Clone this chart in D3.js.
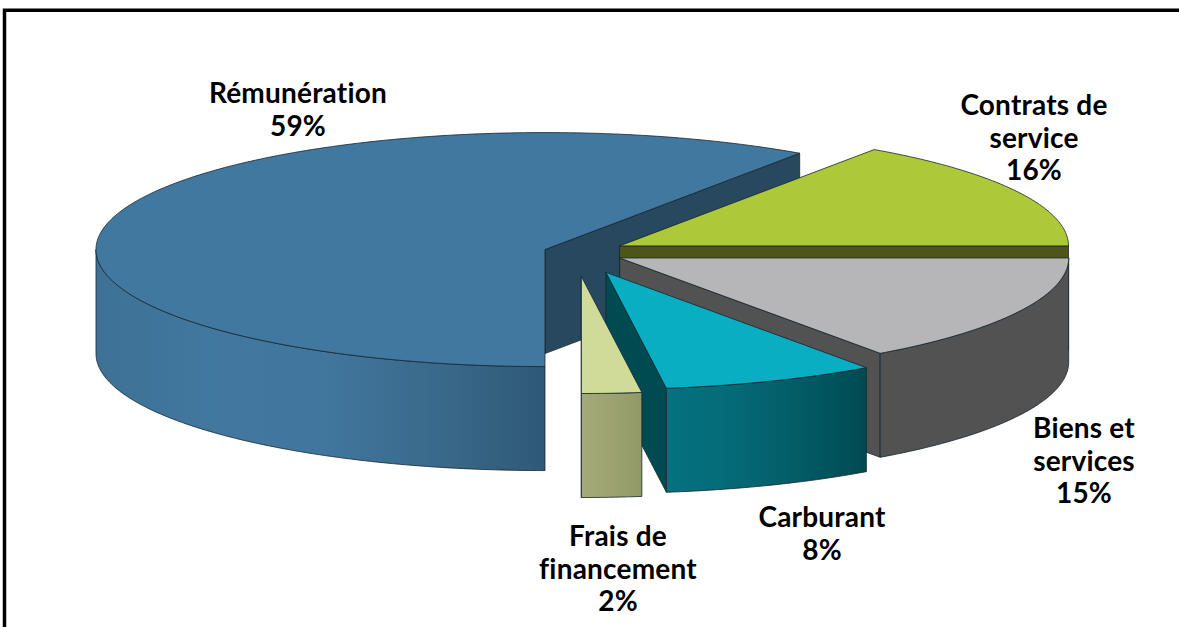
<!DOCTYPE html>
<html>
<head>
<meta charset="utf-8">
<script src="https://cdn.jsdelivr.net/npm/d3@7"></script>
<style>
  html, body { margin: 0; padding: 0; background: #fff; overflow: hidden; }
  text { font-family: Lato, "Open Sans", sans-serif; font-weight: 700; font-size: 28px; letter-spacing: 0.2px; font-variant-ligatures: none; fill: #000; text-anchor: middle; }
</style>
</head>
<body>
<script>
'use strict';
(function() {
  // Data
  var categories = ['Rémunération', 'Contrats de service', 'Biens et services', 'Carburant', 'Frais de financement'];
  var shares = [59.6, 15.4, 15.15, 7.7, 2.15];   // slice sweep
  var percentLabels = ['59%', '16%', '15%', '8%', '2%'];
  var labelLines = [['Rémunération'], ['Contrats de', 'service'], ['Biens et', 'services'], ['Carburant'], ['Frais de', 'financement']];

  // Colors
  var TOP_COLORS = ['#41789f', '#aec937', '#b6b6b8', '#09aec3', '#d0db98'];
  var CUT_COLORS = ['#27485f', '#4e5518', '#525252', '#004b52', '#919966'];
  var WALL_STOPS = [
    ['#3e7195', '#41789f', '#41779e', '#3a6a8b', '#2f5976'],
    ['#4e5518', '#4e5518', '#4e5518', '#4e5518', '#4e5518'],
    ['#525252', '#525252', '#525252', '#525252', '#525252'],
    ['#05717f', '#056c79', '#04636f', '#025761', '#004a52'],
    ['#a3aa78', '#a0a775', '#9ca370', '#969e6c', '#919966']
  ];
  var EDGE = '#16262e';

  // Layout
  var w = 1179;
  var h = 627;
  var cx = 575;
  var cy = 252;
  var rx = 449;
  var ry = 117;
  var depth = 104;
  var explode = [0.07, 0.112, 0.112, 0.187, 0.21];
  var labelX = [298, 1034, 1084, 822, 618];
  var labelY = [103, 115, 438, 527, 546];
  var lineH = 32.6;

  var svg = d3.select('body').append('svg')
    .attr('width', w)
    .attr('height', h)
    .style('display', 'block');

  // Frame: only the top and left rules are in the picture
  svg.append('path')
    .attr('d', 'M4.5,' + 627 + 'V10.25H' + w)
    .attr('fill', 'none')
    .attr('stroke', '#000')
    .attr('stroke-width', 3.5);

  var defs = svg.append('defs');
  WALL_STOPS.forEach(function(stops, i) {
    var grad = defs.append('linearGradient').attr('id', 'wall' + i);
    stops.forEach(function(c, j) {
      grad.append('stop').attr('offset', j / (stops.length - 1)).attr('stop-color', c);
    });
  });

  var pie = d3.pie().sort(null).startAngle(Math.PI).endAngle(3 * Math.PI);
  var slices = pie(shares);

  var line = d3.line();

  // Point on the squashed rim of a slice, lowered by dz
  var rimPoint = function(c, a, dz) {
    return [c.x + rx * Math.sin(a), c.y - ry * Math.cos(a) + dz];
  };

  var rimPoints = function(c, a0, a1, dz) {
    var n = Math.max(2, Math.ceil(Math.abs(a1 - a0) * 60));
    return d3.range(n + 1).map(function(k) {
      return rimPoint(c, a0 + (a1 - a0) * k / n, dz);
    });
  };

  // Only the front half of the rim has a visible wall
  var frontRange = function(a0, a1) {
    var ranges = [[Math.PI / 2, 1.5 * Math.PI], [2.5 * Math.PI, 3.5 * Math.PI]];
    for (var i = 0; i < ranges.length; i++) {
      var from = Math.max(a0, ranges[i][0]);
      var to = Math.min(a1, ranges[i][1]);
      if (to > from) return [from, to];
    }
    return null;
  };

  slices.forEach(function(d, i) {
    var mid = (d.startAngle + d.endAngle) / 2;
    var c = {
      x: cx + explode[i] * rx * Math.sin(mid),
      y: cy - explode[i] * ry * Math.cos(mid)
    };
    var g = svg.append('g').attr('class', 'slice').attr('data-name', categories[i]);

    // Cut side
    var rimEnd = rimPoint(c, d.endAngle, 0);
    g.append('path')
      .attr('d', line([[c.x, c.y], rimEnd, [rimEnd[0], rimEnd[1] + depth], [c.x, c.y + depth]]) + 'Z')
      .attr('fill', CUT_COLORS[i])
      .attr('stroke', EDGE)
      .attr('stroke-width', 0.8)
      .attr('stroke-linejoin', 'round');

    // Outer wall
    var front = frontRange(d.startAngle, d.endAngle);
    if (front) {
      var wall = rimPoints(c, front[0], front[1], 0)
        .concat(rimPoints(c, front[1], front[0], depth));
      g.append('path')
        .attr('d', line(wall) + 'Z')
        .attr('fill', 'url(#wall' + i + ')')
        .attr('stroke', EDGE)
        .attr('stroke-width', 0.8)
        .attr('stroke-linejoin', 'round');
    }

    // Top face
    var top = [[c.x, c.y]].concat(rimPoints(c, d.startAngle, d.endAngle, 0));
    g.append('path')
      .attr('d', line(top) + 'Z')
      .attr('fill', TOP_COLORS[i])
      .attr('stroke', EDGE)
      .attr('stroke-width', 0.8)
      .attr('stroke-linejoin', 'round');
  });

  // Labels
  categories.forEach(function(name, i) {
    var lines = labelLines[i].concat([percentLabels[i]]);
    var label = svg.append('text')
      .attr('x', labelX[i])
      .attr('y', labelY[i]);
    lines.forEach(function(t, j) {
      label.append('tspan')
        .attr('x', labelX[i])
        .attr('y', labelY[i] + j * lineH)
        .text(t);
    });
  });
})();
</script>
</body>
</html>
